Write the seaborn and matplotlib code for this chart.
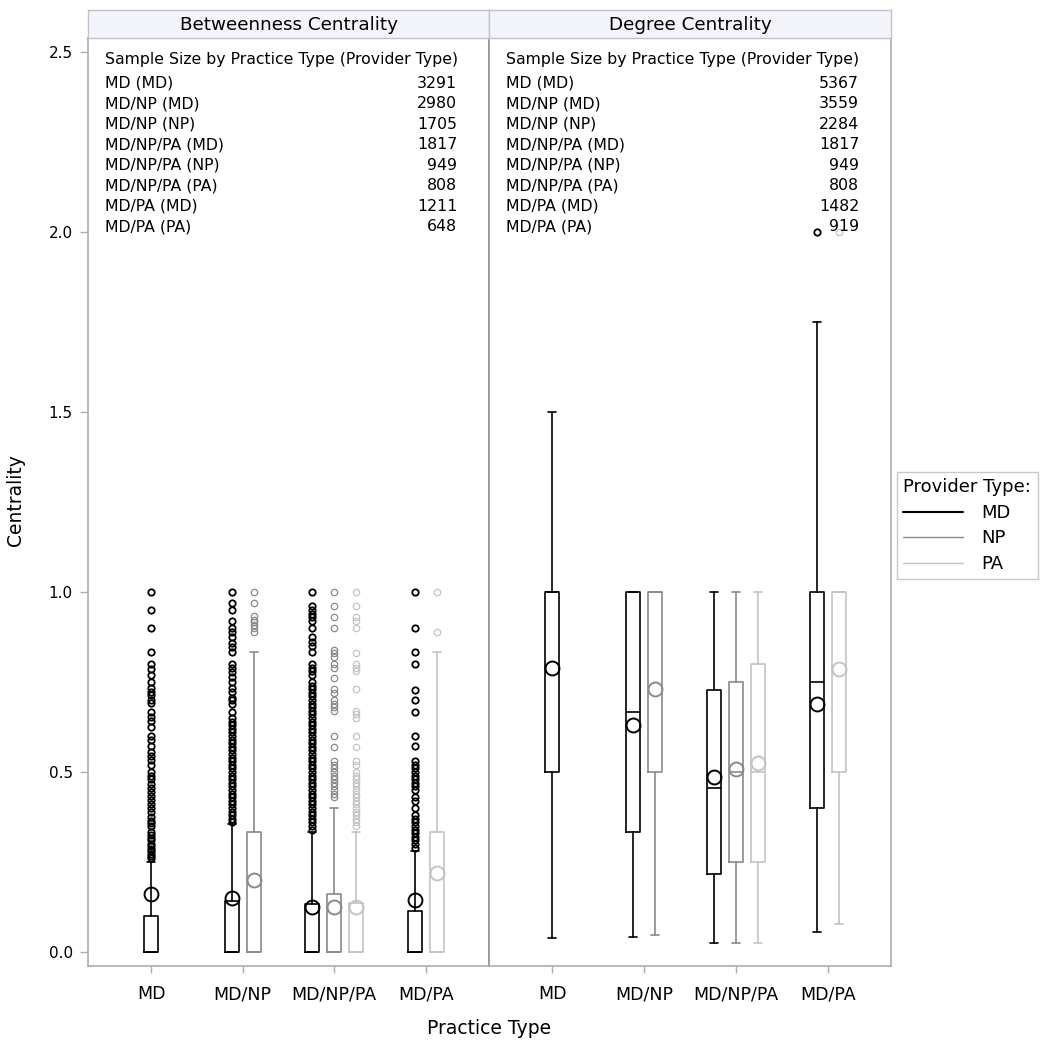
import matplotlib
matplotlib.use("Agg")
import matplotlib.pyplot as plt
import seaborn as sns
from matplotlib.lines import Line2D

# groups: practice type (provider type)
practice_types = ["MD", "MD/NP", "MD/NP/PA", "MD/PA"]
grp_practice = ["MD", "MD/NP", "MD/NP", "MD/NP/PA", "MD/NP/PA", "MD/NP/PA", "MD/PA", "MD/PA"]
grp_provider = ["MD", "MD", "NP", "MD", "NP", "PA", "MD", "PA"]

# betweenness centrality summary
bt_n = [3291, 2980, 1705, 1817, 949, 808, 1211, 648]
bt_whislo = [0.0, 0.0, 0.0, 0.0, 0.0, 0.0, 0.0, 0.0]
bt_q1 = [0.0, 0.0, 0.0, 0.0, 0.0, 0.0, 0.0, 0.0]
bt_med = [0.0, 0.0, 0.0, 0.0, 0.0, 0.0, 0.0, 0.0]
bt_q3 = [0.10, 0.143, 0.333, 0.133, 0.16, 0.136, 0.114, 0.333]
bt_whishi = [0.25, 0.355, 0.833, 0.333, 0.40, 0.333, 0.28, 0.833]
bt_mean = [0.16, 0.15, 0.20, 0.125, 0.125, 0.125, 0.145, 0.22]
bt_out_md_md = [1.0, 0.95, 0.9, 0.833, 0.8, 0.786, 0.769, 0.75, 0.733, 0.722, 0.714, 0.7,
                0.692, 0.667, 0.654, 0.643, 0.625, 0.6, 0.588, 0.571, 0.556, 0.545, 0.533,
                0.52, 0.5, 0.49, 0.48, 0.467, 0.455, 0.444, 0.433, 0.421, 0.41, 0.4, 0.389,
                0.375, 0.364, 0.357, 0.35, 0.333, 0.325, 0.318, 0.31, 0.3, 0.294, 0.286,
                0.28, 0.273, 0.267, 0.26]
bt_out_mdnp_md = [1.0, 0.97, 0.95, 0.92, 0.9, 0.889, 0.875, 0.857, 0.846, 0.833, 0.8, 0.789,
                  0.778, 0.765, 0.75, 0.733, 0.722, 0.706, 0.7, 0.688, 0.667, 0.65, 0.64,
                  0.63, 0.62, 0.61, 0.6, 0.59, 0.58, 0.57, 0.56, 0.55, 0.54, 0.53, 0.52,
                  0.51, 0.5, 0.49, 0.48, 0.47, 0.46, 0.45, 0.44, 0.43, 0.42, 0.41, 0.4,
                  0.39, 0.38, 0.37, 0.36]
bt_out_mdnp_np = [1.0, 0.97, 0.933, 0.923, 0.917, 0.909, 0.9, 0.889]
bt_out_mdnppa_md = [1.0, 0.96, 0.95, 0.94, 0.93, 0.92, 0.9, 0.875, 0.86, 0.85, 0.833, 0.8,
                    0.79, 0.78, 0.77, 0.75, 0.74, 0.73, 0.72, 0.71, 0.7, 0.69, 0.68, 0.67,
                    0.66, 0.65, 0.64, 0.63, 0.62, 0.61, 0.6, 0.59, 0.58, 0.57, 0.56, 0.55,
                    0.54, 0.53, 0.52, 0.51, 0.5, 0.49, 0.48, 0.47, 0.46, 0.45, 0.44, 0.43,
                    0.42, 0.41, 0.4, 0.39, 0.38, 0.37, 0.36, 0.35, 0.34]
bt_out_mdnppa_np = [1.0, 0.96, 0.93, 0.9, 0.84, 0.83, 0.82, 0.8, 0.79, 0.76, 0.73, 0.72,
                    0.7, 0.69, 0.68, 0.67, 0.6, 0.57, 0.53, 0.52, 0.51, 0.5, 0.49, 0.48,
                    0.47, 0.46, 0.45, 0.44, 0.43]
bt_out_mdnppa_pa = [1.0, 0.96, 0.93, 0.92, 0.9, 0.83, 0.8, 0.79, 0.78, 0.73, 0.67, 0.66,
                    0.65, 0.6, 0.57, 0.53, 0.52, 0.5, 0.49, 0.48, 0.47, 0.46, 0.45, 0.44,
                    0.43, 0.42, 0.41, 0.4, 0.39, 0.38, 0.37, 0.36, 0.35]
bt_out_mdpa_md = [1.0, 0.9, 0.833, 0.8, 0.727, 0.7, 0.667, 0.6, 0.571, 0.53, 0.52, 0.51,
                  0.5, 0.49, 0.48, 0.47, 0.46, 0.45, 0.43, 0.42, 0.4, 0.38, 0.37, 0.36,
                  0.35, 0.34, 0.33, 0.32, 0.31, 0.3, 0.29]
bt_out_mdpa_pa = [1.0, 0.889]

# degree centrality summary
dc_n = [5367, 3559, 2284, 1817, 949, 808, 1482, 919]
dc_whislo = [0.04, 0.043, 0.047, 0.025, 0.025, 0.025, 0.055, 0.077]
dc_q1 = [0.5, 0.333, 0.5, 0.218, 0.25, 0.25, 0.4, 0.5]
dc_med = [1.0, 0.667, 1.0, 0.455, 0.5, 0.5, 0.75, 1.0]
dc_q3 = [1.0, 1.0, 1.0, 0.727, 0.75, 0.8, 1.0, 1.0]
dc_whishi = [1.5, 1.0, 1.0, 1.0, 1.0, 1.0, 1.75, 1.0]
dc_mean = [0.79, 0.63, 0.73, 0.487, 0.507, 0.526, 0.689, 0.786]
dc_out_mdpa_md = [2.0]
dc_out_mdpa_pa = [2.0]

bt_out = [bt_out_md_md, bt_out_mdnp_md, bt_out_mdnp_np, bt_out_mdnppa_md,
          bt_out_mdnppa_np, bt_out_mdnppa_pa, bt_out_mdpa_md, bt_out_mdpa_pa]
dc_out = [[], [], [], [], [], [], dc_out_mdpa_md, dc_out_mdpa_pa]

provider_colors = {"MD": "#000000", "NP": "#8a8a8a", "PA": "#c4c4c4"}
frame_c = "#a9adb3"

sns.set_theme(style="white")
plt.rcParams['font.family'] = ['DejaVu Sans']
plt.rcParams['text.color'] = 'black'
plt.rcParams['axes.labelcolor'] = 'black'

fig = plt.figure(figsize=(10.46, 10.5), dpi=100)
W, H = 1046.0, 1050.0
ax1 = fig.add_axes([88 / W, 84 / H, 401 / W, 928 / H])
ax2 = fig.add_axes([489 / W, 84 / H, 402 / W, 928 / H])


def draw_panel(ax, title, n, whislo, q1, med, q3, whishi, mean, outs):
    step = 0.24
    for i in range(len(grp_practice)):
        p = grp_practice[i]
        members = [j for j in range(len(grp_practice)) if grp_practice[j] == p]
        k = members.index(i)
        pos = practice_types.index(p) + (k - (len(members) - 1) / 2) * step
        c = provider_colors[grp_provider[i]]
        st = dict(whislo=whislo[i], q1=q1[i], med=med[i], q3=q3[i], whishi=whishi[i],
                  mean=mean[i], fliers=outs[i])
        fw = 1.3 if grp_provider[i] == "MD" else 0.9
        ax.bxp([st], positions=[pos], widths=0.153, capwidths=[0.09],
               showmeans=True, showfliers=True,
               boxprops=dict(color=c, lw=1.2),
               whiskerprops=dict(color=c, lw=1.2),
               capprops=dict(color=c, lw=1.2),
               medianprops=dict(color=c, lw=1.2),
               meanprops=dict(marker='o', markerfacecolor='none', markeredgecolor=c,
                              markersize=10, markeredgewidth=1.4),
               flierprops=dict(marker='o', markerfacecolor='none', markeredgecolor=c,
                               markersize=4.6, markeredgewidth=fw))
    ax.set_xlim(-0.69, 3.69)
    ax.set_ylim(-0.0389, 2.539)
    ax.set_xticks(range(len(practice_types)))
    ax.set_xticklabels(practice_types)
    ax.tick_params(axis='x', direction='out', length=5, color=frame_c, width=1,
                   labelsize=12.5, labelcolor='black', pad=9, bottom=True)
    for s in ax.spines.values():
        s.set_color(frame_c)
        s.set_linewidth(1.2)

    # sample size table
    ax.text(0.042, 0.977, "Sample Size by Practice Type (Provider Type)",
            transform=ax.transAxes, fontsize=11.3, va='center', ha='left')
    for r in range(len(grp_practice)):
        yy = 0.9515 - r * 0.0221
        ax.text(0.042, yy, f"{grp_practice[r]} ({grp_provider[r]})",
                transform=ax.transAxes, fontsize=11.3, va='center', ha='left')
        ax.text(0.921, yy, str(n[r]), transform=ax.transAxes, fontsize=11.3,
                va='center', ha='right')

    # header strip
    bb = ax.get_position()
    hax = fig.add_axes([bb.x0, 1012 / H, bb.width, 28 / H])
    hax.set_facecolor("#f3f5fb")
    hax.set_xticks([])
    hax.set_yticks([])
    for s in hax.spines.values():
        s.set_color("#c0c4ca")
        s.set_linewidth(1.0)
    hax.text(0.5, 0.45, title, ha='center', va='center', fontsize=13.2)


draw_panel(ax1, "Betweenness Centrality", bt_n, bt_whislo, bt_q1, bt_med, bt_q3,
           bt_whishi, bt_mean, bt_out)
draw_panel(ax2, "Degree Centrality", dc_n, dc_whislo, dc_q1, dc_med, dc_q3,
           dc_whishi, dc_mean, dc_out)

ax1.set_yticks([0.0, 0.5, 1.0, 1.5, 2.0, 2.5])
ax1.set_yticklabels(["0.0", "0.5", "1.0", "1.5", "2.0", "2.5"])
ax1.tick_params(axis='y', direction='out', length=6, color=frame_c, width=1,
                labelsize=11, labelcolor='black', pad=5, left=True)
ax2.set_yticks([])
ax2.spines['left'].set_color("#8f9399")

fig.text(16 / W, 1 - 500 / H, "Centrality", rotation=90, ha='center', va='center',
         fontsize=13.5)
fig.text(489 / W, 1 - 1028 / H, "Practice Type", ha='center', va='center', fontsize=13.5)

handles = [Line2D([], [], color=provider_colors[p], lw=1.5 if p == "MD" else 1.0)
           for p in ["MD", "NP", "PA"]]
leg = fig.legend(handles, ["MD", "NP", "PA"], title="Provider Type:",
                 loc="upper left", bbox_to_anchor=(897 / W, 1 - 472 / H),
                 frameon=True, fancybox=False, edgecolor="#c8c8c8", framealpha=1,
                 fontsize=13, title_fontsize=13, handlelength=3.3,
                 handletextpad=1.0, labelspacing=0.42, borderpad=0.35,
                 borderaxespad=0, alignment='left')
leg.get_frame().set_linewidth(1.0)

fig.savefig("out.png", dpi=100)
